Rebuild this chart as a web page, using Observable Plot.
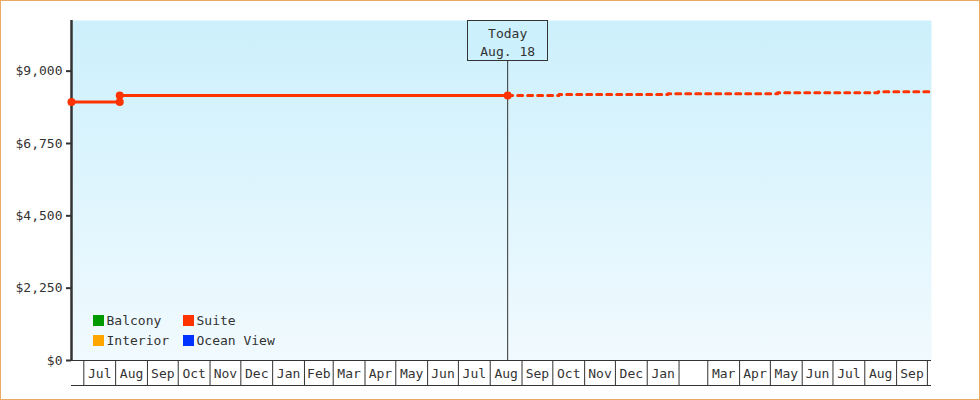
<!DOCTYPE html>
<html>
<head>
<meta charset="utf-8">
<script src="https://cdn.jsdelivr.net/npm/d3@7"></script>
<script src="https://cdn.jsdelivr.net/npm/@observablehq/plot@0.6"></script>
<style>
  html, body { margin: 0; padding: 0; background: #fff; }
  #wrap { position: relative; width: 980px; height: 400px; overflow: hidden; font-family: "DejaVu Sans Mono", monospace; }
  #wrap svg { position: absolute; left: 0; top: 0; }
  #border { position: absolute; inset: 0; border: 1px solid #eaa964; box-sizing: border-box; pointer-events: none; }
  #legend { position: absolute; left: 93px; top: 310.5px; display: grid; grid-template-rows: 20px 20px; grid-auto-flow: column; grid-auto-columns: 90px; font-size: 13px; color: #333; white-space: nowrap; }
  #legend .item { display: flex; align-items: center; height: 20px; }
  #legend .sw { width: 11px; height: 11px; margin-right: 2.5px; flex: none; }
</style>
</head>
<body>
<div id="wrap"><div id="border"></div></div>
<script>
// ---- data ----
const seriesNames = ["Balcony", "Interior", "Suite", "Ocean View"];
const seriesColors = ["#009900", "#ffa500", "#ff3300", "#0033ff"];

const suiteDates = ["2017-06-19", "2017-08-05", "2017-08-05", "2018-08-18"];
const suiteValues = [8040, 8040, 8245, 8245];

const forecastDates = ["2018-08-18", "2018-10-07", "2019-01-21", "2019-05-08", "2019-08-14", "2019-10-05"];
const forecastValues = [8240, 8270, 8300, 8330, 8360, 8360];

const todayDate = "2018-08-18";
const todayText = "Today\nAug. 18";

const xStart = "2017-06-19";
const xEnd = "2019-10-05";
const firstMonth = "2017-07-01";
const monthLabels = ["Jul","Aug","Sep","Oct","Nov","Dec","Jan","Feb","Mar","Apr","May","Jun",
                     "Jul","Aug","Sep","Oct","Nov","Dec","Jan","","Mar","Apr","May","Jun",
                     "Jul","Aug","Sep"];
const yTicks = [0, 2250, 4500, 6750, 9000];
const yMax = 10575;

// ---- build tables ----
const suite = suiteDates.map((d, i) => ({date: new Date(d), value: suiteValues[i]}));
const forecast = forecastDates.map((d, i) => ({date: new Date(d), value: forecastValues[i]}));
const today = new Date(todayDate);
const m0 = new Date(firstMonth);
const boundaries = d3.range(monthLabels.length + 1).map(i => d3.utcMonth.offset(m0, i));
const months = monthLabels.map((label, i) => ({
  label,
  mid: new Date((+boundaries[i] + +boundaries[i + 1]) / 2)
}));

const ink = "#333";
const suiteColor = seriesColors[seriesNames.indexOf("Suite")];

const chart = Plot.plot({
  width: 980,
  height: 400,
  marginLeft: 71,
  marginRight: 49,
  marginTop: 20,
  marginBottom: 40,
  style: {fontFamily: "'DejaVu Sans Mono', monospace", fontSize: "13px", color: ink, background: "transparent", overflow: "visible"},
  x: {type: "utc", domain: [new Date(xStart), new Date(xEnd)]},
  y: {domain: [0, yMax]},
  marks: [
    Plot.frame({fill: "#ccf0fc", stroke: null, ariaDescription: "bg"}),
    Plot.ruleX([today], {stroke: ink, strokeWidth: 1}),
    Plot.ruleY([0], {stroke: ink, strokeWidth: 1}),
    Plot.ruleY([0], {stroke: ink, strokeWidth: 1, dy: 25}),
    Plot.axisX(boundaries, {tickSize: 25, tickFormat: () => "", stroke: ink}),
    Plot.text(months, {x: "mid", text: "label", frameAnchor: "bottom", lineAnchor: "middle", dy: 13, fill: ink}),
    Plot.axisY({ticks: yTicks, tickFormat: d3.format("$,"), tickSize: 5, tickPadding: 4, strokeWidth: 2, stroke: ink, label: null}),
    Plot.ruleX([new Date(xStart)], {stroke: ink, strokeWidth: 2.5}),
    Plot.line(forecast, {x: "date", y: "value", curve: "step-after", stroke: suiteColor, strokeWidth: 3, strokeDasharray: "5,5"}),
    Plot.line(suite, {x: "date", y: "value", stroke: suiteColor, strokeWidth: 3}),
    Plot.dot(suite, {x: "date", y: "value", r: 4, fill: suiteColor}),
    Plot.text([today], {x: d => d, text: () => todayText, frameAnchor: "top", lineAnchor: "middle", dy: 21, lineHeight: 1.38, fill: ink, ariaDescription: "today"})
  ]
});

const wrap = document.getElementById("wrap");
wrap.insertBefore(chart, wrap.firstChild);

// gradient background
const svg = d3.select(chart);
const defs = svg.insert("defs", ":first-child");
const grad = defs.append("linearGradient").attr("id", "bggrad").attr("x1", 0).attr("y1", 0).attr("x2", 0).attr("y2", 1);
grad.append("stop").attr("offset", "0%").attr("stop-color", "#ccf0fc");
grad.append("stop").attr("offset", "100%").attr("stop-color", "#f1fafe");
svg.selectAll("rect[aria-description=bg], [aria-description=bg] rect").attr("fill", "url(#bggrad)");

// box around today label (placed in the svg root, just under the label)
const tg = svg.select("[aria-description=today]");
const tnode = tg.select("text").node();
if (tnode) {
  const bb = tnode.getBBox();
  const cx = chart.scale("x").apply(today);
  const w = Math.round(bb.width + 25);
  const rect = document.createElementNS("http://www.w3.org/2000/svg", "rect");
  d3.select(rect)
    .attr("x", Math.round(cx - w / 2) + 0.5)
    .attr("y", 20.5)
    .attr("width", w)
    .attr("height", 40)
    .attr("fill", "#ccf0fc")
    .attr("stroke", ink)
    .attr("stroke-width", 1);
  tg.node().parentNode.insertBefore(rect, tg.node());
}

// legend
const legend = d3.select(wrap).append("div").attr("id", "legend");
const order = ["Balcony", "Interior", "Suite", "Ocean View"];
order.forEach(name => {
  const it = legend.append("div").attr("class", "item");
  it.append("div").attr("class", "sw").style("background", seriesColors[seriesNames.indexOf(name)]);
  it.append("span").text(name);
});
</script>
</body>
</html>
